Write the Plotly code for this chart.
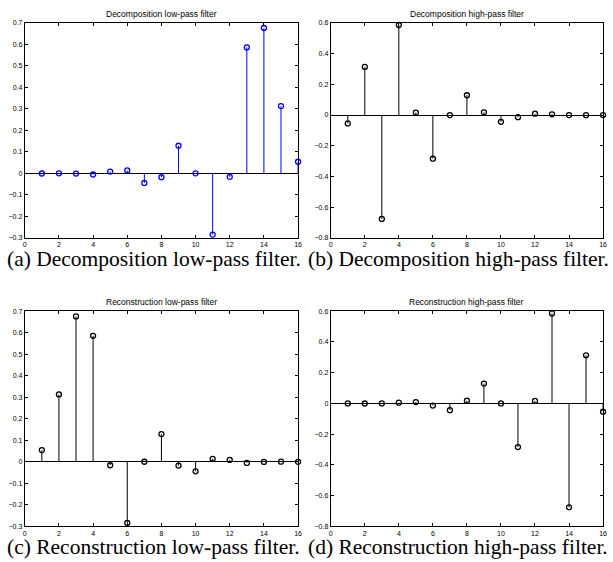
import plotly.graph_objects as go

taps = list(range(1, 17))
dec_lo = [-0.000117, 0.000675, -0.000392, -0.00487, 0.00875, 0.01398, -0.04409, -0.01737,
          0.12875, 0.00047, -0.28402, -0.01583, 0.58535, 0.67563, 0.31287, 0.05442]
dec_hi = [-0.05442, 0.31287, -0.67563, 0.58535, 0.01583, -0.28402, -0.00047, 0.12875,
          0.01737, -0.04409, -0.01398, 0.00875, 0.00487, -0.000392, -0.000675, -0.000117]
rec_lo = [0.05442, 0.31287, 0.67563, 0.58535, -0.01583, -0.28402, 0.00047, 0.12875,
          -0.01737, -0.04409, 0.01398, 0.00875, -0.00487, -0.000392, 0.000675, -0.000117]
rec_hi = [-0.000117, -0.000675, -0.000392, 0.00487, 0.00875, -0.01398, -0.04409, 0.01737,
          0.12875, -0.00047, -0.28402, 0.01583, 0.58535, -0.67563, 0.31287, -0.05442]

titles = ["Decomposition low-pass filter", "Decomposition high-pass filter",
          "Reconstruction low-pass filter", "Reconstruction high-pass filter"]
captions = ["(a) Decomposition low-pass filter.", "(b) Decomposition high-pass filter.",
            "(c) Reconstruction low-pass filter.", "(d) Reconstruction high-pass filter."]
series = [dec_lo, dec_hi, rec_lo, rec_hi]
colors = ["#0000ff", "#000000", "#000000", "#000000"]
yranges = [[-0.3, 0.7], [-0.8, 0.6], [-0.3, 0.7], [-0.8, 0.6]]
ydticks = [0.1, 0.2, 0.1, 0.2]

W, H = 613, 562
# pixel boxes (left, top, right, bottom)
boxes = [(23, 19, 299, 237), (332, 19, 607, 237), (23, 311, 299, 529), (332, 311, 607, 529)]
cap_x = [153, 461, 153, 461]
cap_y = [258, 258, 550, 550]

fig = go.Figure()
for i, (vals, col) in enumerate(zip(series, colors)):
    n = i + 1
    sx, sy = [], []
    for t, v in zip(taps, vals):
        sx += [t, t, None]
        sy += [0, v, None]
    xa = "x" if n == 1 else f"x{n}"
    ya = "y" if n == 1 else f"y{n}"
    fig.add_trace(go.Scatter(x=sx, y=sy, mode="lines", line=dict(color=col, width=1),
                             xaxis=xa, yaxis=ya, showlegend=False, hoverinfo="skip",
                             cliponaxis=False))
    fig.add_trace(go.Scatter(x=taps, y=vals, mode="markers",
                             marker=dict(symbol="circle-open", size=5, color=col,
                                         line=dict(width=1.3, color=col)),
                             xaxis=xa, yaxis=ya, showlegend=False, cliponaxis=False))
    l, t, r, b = boxes[i]
    axcommon = dict(showline=True, linecolor="black", linewidth=1, mirror="allticks",
                    ticks="inside", ticklen=3, tickcolor="black", showgrid=False,
                    ticklabeloverflow="allow",
                    tickfont=dict(family="Liberation Sans, Arial", size=7, color="black"))
    fig.update_layout(**{
        ("xaxis" if n == 1 else f"xaxis{n}"): dict(
            domain=[l / W, r / W], range=[0, 16], tick0=0, dtick=2, zeroline=False,
            anchor=ya, **axcommon),
        ("yaxis" if n == 1 else f"yaxis{n}"): dict(
            domain=[1 - b / H, 1 - t / H], range=yranges[i], tick0=yranges[i][0],
            dtick=ydticks[i], zeroline=True, zerolinecolor="black", zerolinewidth=1,
            anchor=xa, **axcommon),
    })
    fig.add_annotation(x=(l + r) / 2 / W, y=1 - (t - 9) / H, xref="paper", yref="paper",
                       text=titles[i], showarrow=False, xanchor="center", yanchor="middle",
                       font=dict(family="Liberation Sans, Arial", size=8.5, color="black"))
    fig.add_annotation(x=cap_x[i] / W, y=1 - cap_y[i] / H, xref="paper", yref="paper",
                       text=captions[i], showarrow=False, xanchor="center", yanchor="middle",
                       font=dict(family="Liberation Serif, Times New Roman", size=21.5, color="black"))

fig.update_layout(width=W, height=H, margin=dict(l=0, r=0, t=0, b=0),
                  paper_bgcolor="white", plot_bgcolor="white", hovermode=False)
fig.write_html("out.html", config={"displayModeBar": False},
               post_script="document.body.style.margin='0px';")
